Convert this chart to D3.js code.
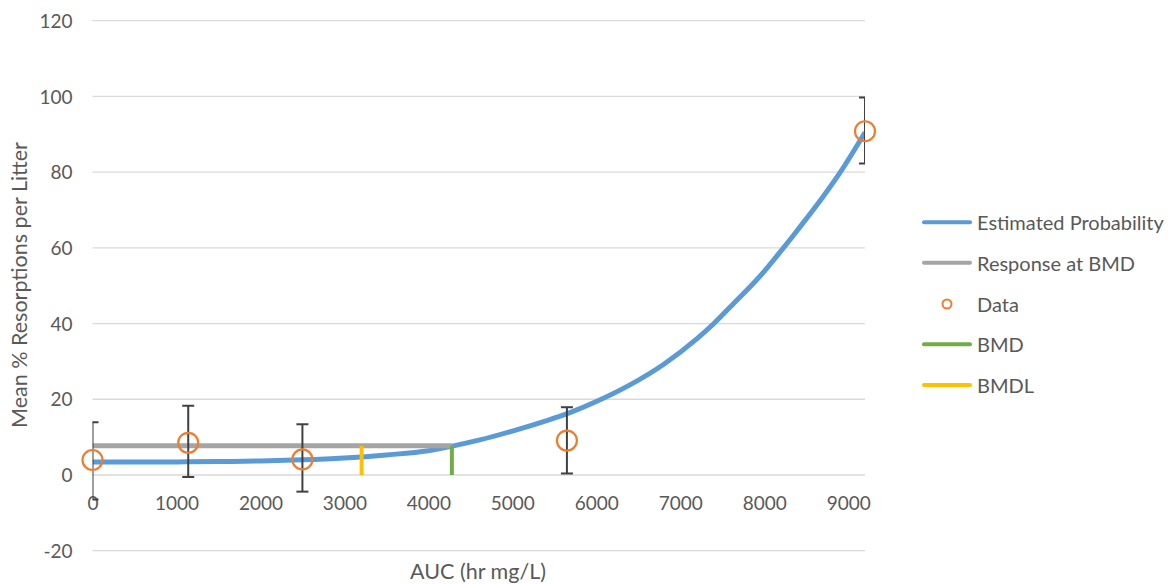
<!DOCTYPE html>
<html>
<head>
<meta charset="utf-8">
<script src="https://cdn.jsdelivr.net/npm/d3@7"></script>
<style>
  html, body { margin: 0; padding: 0; background: #ffffff; }
  svg { display: block; font-family: Lato, "Open Sans", sans-serif; }
</style>
</head>
<body>
<svg id="chart" width="1168" height="584"></svg>
<script>
// Observed litter data (dose as AUC, mean % resorptions, error bar limits)
const doseAUC   = [0, 1140, 2500, 5650, 9200];
const meanResp  = [3.96, 8.5, 4.1, 9.1, 90.8];
const errLower  = [-6.5, -0.5, -4.4, 0.4, 82.3];
const errUpper  = [13.9, 18.3, 13.4, 17.9, 99.7];

// Fitted model curve (estimated probability, %)
const curveAUC  = [0, 500, 1000, 1500, 2000, 2500, 3000, 3500, 4000, 4300, 4600, 5000, 5400, 5700, 6000, 6400, 6800, 7200, 7400, 7600, 8000, 8200, 8400, 8700, 8900, 9200];
const curveResp = [3.4, 3.4, 3.45, 3.55, 3.7, 4.0, 4.5, 5.3, 6.4, 7.7, 9.2, 11.6, 14.3, 16.6, 19.4, 23.8, 29.2, 36.0, 40.0, 44.5, 53.8, 59.2, 64.8, 73.5, 79.8, 90.5];

// Benchmark dose results
const bmdValue    = 4280;
const bmdlValue   = 3205;
const bmdResponse = 7.7;

// Axis ticks
const xTickValues = [0, 1000, 2000, 3000, 4000, 5000, 6000, 7000, 8000, 9000];
const yTickValues = [-20, 0, 20, 40, 60, 80, 100, 120];

const legendLabels = ["Estimated Probability", "Response at BMD", "Data", "BMD", "BMDL"];

const colors = {
  curve: "#5B9BD5",
  bmr: "#A5A5A5",
  data: "#ED7D31",
  bmd: "#70AD47",
  bmdl: "#FFC000",
  err: "#404040",
  grid: "#D9D9D9",
  text: "#595959"
};

const svg = d3.select("#chart");
const plot = { left: 92.5, right: 865, top: 20.7, bottom: 550.7 };

const x = d3.scaleLinear().domain([0, 9200]).range([plot.left, plot.right]);
const y = d3.scaleLinear().domain([-20, 120]).range([plot.bottom, plot.top]);

const plainNumber = d => String(d);

svg.append("defs").append("clipPath").attr("id", "plotClip")
  .append("rect")
  .attr("x", plot.left).attr("y", plot.top - 10)
  .attr("width", plot.right - plot.left)
  .attr("height", plot.bottom - plot.top + 20);

// Horizontal gridlines
svg.append("g").selectAll("line").data(yTickValues).join("line")
  .attr("x1", plot.left).attr("x2", plot.right)
  .attr("y1", d => y(d)).attr("y2", d => y(d))
  .attr("stroke", colors.grid).attr("stroke-width", 1.3);

// Y axis labels
const yAxis = svg.append("g")
  .attr("transform", `translate(${plot.left - 20},0)`)
  .call(d3.axisLeft(y).tickValues(yTickValues).tickSize(0).tickPadding(0).tickFormat(plainNumber));
yAxis.select(".domain").remove();
yAxis.selectAll("text")
  .attr("fill", colors.text).attr("font-size", 19).attr("font-family", "Lato, sans-serif")
  .attr("dy", "0.35em");

// X axis labels (axis crosses at zero; labels sit just below it)
const xAxis = svg.append("g")
  .attr("transform", `translate(0,${y(0) + 28})`)
  .call(d3.axisBottom(x).tickValues(xTickValues).tickSize(0).tickPadding(0).tickFormat(plainNumber));
xAxis.select(".domain").remove();
xAxis.selectAll("text")
  .attr("fill", colors.text).attr("font-size", 19).attr("font-family", "Lato, sans-serif")
  .attr("dy", "0.35em");

// Axis titles
svg.append("text")
  .attr("x", 478).attr("y", 571)
  .attr("text-anchor", "middle").attr("dominant-baseline", "central")
  .attr("fill", colors.text).attr("font-size", 21.5)
  .text("AUC (hr mg/L)");

svg.append("text")
  .attr("transform", "translate(19,285) rotate(-90)")
  .attr("text-anchor", "middle").attr("dominant-baseline", "central")
  .attr("fill", colors.text).attr("font-size", 21.5)
  .text("Mean % Resorptions per Litter");

const clipped = svg.append("g").attr("clip-path", "url(#plotClip)");

// Fitted curve
const curvePts = curveAUC.map((d, i) => [d, curveResp[i]]);
clipped.append("path")
  .datum(curvePts)
  .attr("d", d3.line().x(d => x(d[0])).y(d => y(d[1])).curve(d3.curveMonotoneX))
  .attr("fill", "none").attr("stroke", colors.curve).attr("stroke-width", 5);

// Response at BMD
clipped.append("line")
  .attr("x1", x(0)).attr("x2", x(bmdValue))
  .attr("y1", y(bmdResponse)).attr("y2", y(bmdResponse))
  .attr("stroke", colors.bmr).attr("stroke-width", 5);

// Error bars
const capHalf = 6;
const errG = clipped.append("g").attr("stroke", colors.err).attr("stroke-width", 2).attr("fill", "none");
doseAUC.forEach((d, i) => {
  const cx = x(d);
  errG.append("line").attr("x1", cx).attr("x2", cx).attr("y1", y(errLower[i])).attr("y2", y(errUpper[i]));
  errG.append("line").attr("x1", cx - capHalf).attr("x2", cx + capHalf).attr("y1", y(errUpper[i])).attr("y2", y(errUpper[i]));
  errG.append("line").attr("x1", cx - capHalf).attr("x2", cx + capHalf).attr("y1", y(errLower[i])).attr("y2", y(errLower[i]));
});

// Data markers
svg.append("g").selectAll("circle").data(doseAUC).join("circle")
  .attr("cx", d => x(d)).attr("cy", (d, i) => y(meanResp[i]))
  .attr("r", 10)
  .attr("fill", "none").attr("stroke", colors.data).attr("stroke-width", 2.2);

// BMD and BMDL markers
svg.append("line")
  .attr("x1", x(bmdValue)).attr("x2", x(bmdValue))
  .attr("y1", y(0)).attr("y2", y(bmdResponse))
  .attr("stroke", colors.bmd).attr("stroke-width", 4);
svg.append("line")
  .attr("x1", x(bmdlValue)).attr("x2", x(bmdlValue))
  .attr("y1", y(0)).attr("y2", y(bmdResponse))
  .attr("stroke", colors.bmdl).attr("stroke-width", 4);

// Legend
const legendRows = [222.3, 262.7, 304, 344.3, 385];
const legendColors = [colors.curve, colors.bmr, colors.data, colors.bmd, colors.bmdl];
const legend = svg.append("g");
legendLabels.forEach((label, i) => {
  const ly = legendRows[i];
  if (label === "Data") {
    legend.append("circle").attr("cx", 947).attr("cy", ly).attr("r", 4.5)
      .attr("fill", "none").attr("stroke", legendColors[i]).attr("stroke-width", 2);
  } else {
    legend.append("line").attr("x1", 924).attr("x2", 970).attr("y1", ly).attr("y2", ly)
      .attr("stroke", legendColors[i]).attr("stroke-width", 4).attr("stroke-linecap", "round");
  }
  legend.append("text").attr("x", 977).attr("y", ly)
    .attr("dominant-baseline", "central")
    .attr("fill", colors.text).attr("font-size", 20)
    .text(label);
});
</script>
</body>
</html>
